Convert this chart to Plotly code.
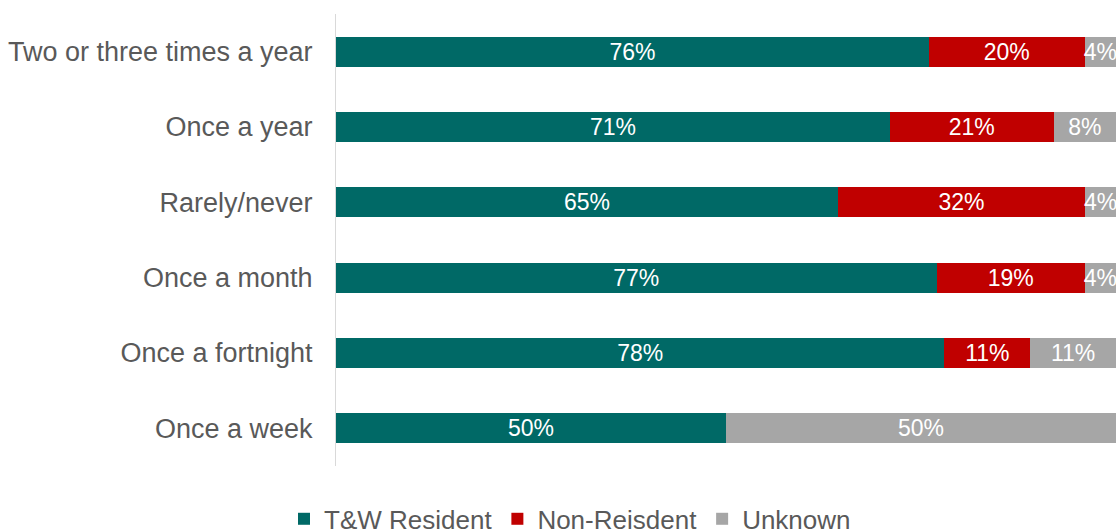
import plotly.graph_objects as go

categories = ['Two or three times a year', 'Once a year', 'Rarely/never',
              'Once a month', 'Once a fortnight', 'Once a week']
resident = [76, 71, 65, 77, 78, 50]
non_resident = [20, 21, 32, 19, 11, 0]
unknown = [4, 8, 4, 4, 11, 50]

series = [
    ('T&W Resident', resident, '#006966'),
    ('Non-Reisdent', non_resident, '#C00000'),
    ('Unknown', unknown, '#A6A6A6'),
]

font_family = 'Liberation Sans, Arial, sans-serif'

fig = go.Figure()
for name, vals, color in series:
    fig.add_trace(go.Bar(
        y=categories, x=vals, name=name, orientation='h',
        marker=dict(color=color, line=dict(width=0)),
        text=[f'{v}%' if v > 0 else '' for v in vals],
        textposition='inside', insidetextanchor='middle',
        textfont=dict(color='white', size=23, family=font_family),
        cliponaxis=False,
    ))

fig.update_layout(
    barmode='stack', barnorm='percent', bargap=0.6,
    width=1118, height=529,
    margin=dict(l=336, r=2, t=14, b=63, autoexpand=False),
    plot_bgcolor='white', paper_bgcolor='white',
    font=dict(family=font_family, color='#595959', size=27),
    uniformtext=dict(mode='show', minsize=23),
    showlegend=True,
    legend=dict(orientation='h', x=0.3, xanchor='center', y=-0.117, yanchor='middle',
                font=dict(size=26, color='#595959'), traceorder='normal',
                itemwidth=30),
)
fig.update_xaxes(range=[0, 100], visible=False, fixedrange=True)
fig.update_yaxes(autorange='reversed', showline=True, linecolor='#D9D9D9', linewidth=1,
                 ticks='outside', ticklen=17, tickcolor='rgba(0,0,0,0)',
                 tickfont=dict(size=27, color='#595959'), showgrid=False)

# drop the default body margin so the figure sits at the page corner
fig.write_html('out.html', config={'displayModeBar': False},
               post_script="document.body.style.margin='0';document.body.style.overflow='hidden';")
